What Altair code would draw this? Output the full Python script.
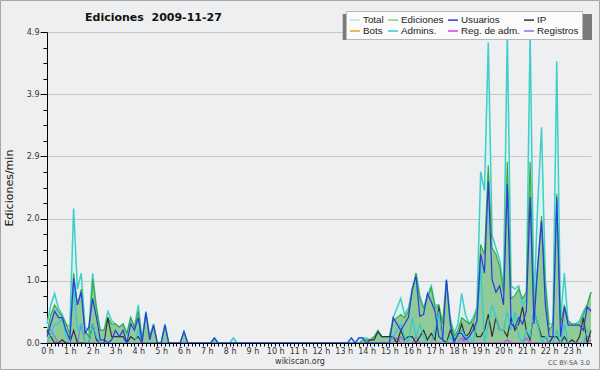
import altair as alt
import pandas as pd

# ---------------- data (10-minute steps, 0h .. 23h50) ----------------
series = ["Total", "Ediciones", "Usuarios", "IP", "Bots", "Admins.", "Reg. de adm.", "Registros"]
legend_colors = ["#aee6e4", "#88d088", "#2a3ae6", "#333333", "#f0a030", "#30c8dc", "#d040e0", "#7b7bf0"]

total = [
    0.30, 0.60, 0.78, 0.55, 0.45, 0.30,   # 0h
    0.25, 2.12, 0.85, 1.10, 0.25, 0.20,   # 1h
    1.10, 0.55, 0.20, 0.20, 0.50, 0.35,   # 2h
    0.30, 0.25, 0.30, 0.15, 0.40, 0.25,   # 3h
    0.60, 0.05, 0.50, 0.10, 0.30, 0.00,   # 4h
    0.00, 0.30, 0.00, 0.00, 0.00, 0.00,   # 5h
    0.18, 0.00, 0.00, 0.00, 0.00, 0.00,   # 6h
    0.00, 0.00, 0.08, 0.00, 0.00, 0.00,   # 7h
    0.00, 0.08, 0.00, 0.00, 0.00, 0.00,   # 8h
    0.00, 0.00, 0.00, 0.00, 0.00, 0.00,   # 9h
    0.00, 0.00, 0.00, 0.00, 0.00, 0.00,   # 10h
    0.00, 0.00, 0.00, 0.00, 0.00, 0.00,   # 11h
    0.00, 0.00, 0.00, 0.00, 0.00, 0.00,   # 12h
    0.00, 0.00, 0.08, 0.00, 0.08, 0.08,   # 13h
    0.08, 0.05, 0.10, 0.20, 0.10, 0.10,   # 14h
    0.10, 0.40, 0.55, 0.70, 0.45, 0.55,   # 15h
    0.85, 1.10, 0.75, 0.55, 0.75, 0.90,   # 16h
    0.60, 0.60, 0.30, 1.00, 0.40, 0.15,   # 17h
    0.30, 0.78, 0.45, 0.30, 0.40, 0.55,   # 18h
    2.70, 2.40, 4.74, 1.70, 1.50, 1.30,   # 19h
    0.90, 4.90, 0.90, 0.85, 0.90, 0.60,   # 20h
    0.70, 4.90, 0.60, 2.20, 3.40, 1.00,   # 21h
    0.30, 0.30, 4.44, 0.35, 1.10, 0.30,   # 22h
    0.30, 0.30, 0.35, 0.50, 0.60, 0.80,   # 23h
]

ediciones = [
    0.15, 0.45, 0.60, 0.50, 0.42, 0.30,
    0.15, 1.10, 0.60, 0.85, 0.20, 0.10,
    1.00, 0.55, 0.20, 0.20, 0.40, 0.30,
    0.30, 0.25, 0.30, 0.15, 0.40, 0.25,
    0.50, 0.05, 0.48, 0.10, 0.28, 0.00,
    0.00, 0.28, 0.00, 0.00, 0.00, 0.00,
    0.18, 0.00, 0.00, 0.00, 0.00, 0.00,
    0.00, 0.00, 0.08, 0.00, 0.00, 0.00,
    0.00, 0.00, 0.00, 0.00, 0.00, 0.00,
    0.00, 0.00, 0.00, 0.00, 0.00, 0.00,
    0.00, 0.00, 0.00, 0.00, 0.00, 0.00,
    0.00, 0.00, 0.00, 0.00, 0.00, 0.00,
    0.00, 0.00, 0.00, 0.00, 0.00, 0.00,
    0.00, 0.00, 0.00, 0.00, 0.00, 0.05,
    0.05, 0.05, 0.10, 0.18, 0.10, 0.10,
    0.10, 0.35, 0.40, 0.45, 0.40, 0.50,
    0.80, 1.10, 0.70, 0.55, 0.70, 0.88,
    0.55, 0.60, 0.30, 1.00, 0.35, 0.10,
    0.20, 0.40, 0.35, 0.30, 0.35, 0.50,
    1.55, 1.40, 2.80, 1.50, 1.40, 1.20,
    0.80, 2.85, 0.70, 0.75, 0.85, 0.70,
    0.80, 2.85, 0.50, 1.25, 2.00, 0.90,
    0.20, 0.30, 2.35, 0.30, 0.60, 0.35,
    0.30, 0.30, 0.30, 0.45, 0.60, 0.80,
]

usuarios = [
    0.10, 0.30, 0.50, 0.40, 0.40, 0.20,
    0.05, 1.02, 0.60, 0.80, 0.15, 0.25,
    0.70, 0.40, 0.05, 0.05, 0.00, 0.05,
    0.20, 0.10, 0.20, 0.00, 0.30, 0.20,
    0.40, 0.00, 0.48, 0.05, 0.28, 0.00,
    0.00, 0.28, 0.00, 0.00, 0.00, 0.00,
    0.18, 0.00, 0.00, 0.00, 0.00, 0.00,
    0.00, 0.00, 0.08, 0.00, 0.00, 0.00,
    0.00, 0.00, 0.00, 0.00, 0.00, 0.00,
    0.00, 0.00, 0.00, 0.00, 0.00, 0.00,
    0.00, 0.00, 0.00, 0.00, 0.00, 0.00,
    0.00, 0.00, 0.00, 0.00, 0.00, 0.00,
    0.00, 0.00, 0.00, 0.00, 0.00, 0.00,
    0.00, 0.00, 0.08, 0.00, 0.08, 0.08,
    0.00, 0.00, 0.00, 0.00, 0.00, 0.00,
    0.00, 0.40, 0.30, 0.20, 0.30, 0.40,
    0.85, 1.05, 0.42, 0.45, 0.78, 0.65,
    0.50, 0.10, 0.05, 0.99, 0.30, 0.00,
    0.15, 0.15, 0.05, 0.10, 0.20, 0.35,
    1.40, 1.10, 2.55, 1.00, 0.80, 0.90,
    0.60, 2.50, 0.30, 0.25, 0.40, 0.30,
    0.50, 2.30, 0.30, 1.20, 1.92, 0.60,
    0.10, 0.10, 2.30, 0.10, 0.57, 0.28,
    0.28, 0.28, 0.28, 0.20, 0.57, 0.50,
]

ip = [
    0.20, 0.10, 0.00, 0.00, 0.05, 0.00,
    0.00, 0.20, 0.00, 0.00, 0.00, 0.00,
    0.30, 0.05, 0.00, 0.00, 0.40, 0.10,
    0.10, 0.10, 0.10, 0.00, 0.10, 0.05,
    0.10, 0.00, 0.00, 0.00, 0.00, 0.00,
    0.00, 0.00, 0.00, 0.00, 0.00, 0.00,
    0.00, 0.00, 0.00, 0.00, 0.00, 0.00,
    0.00, 0.00, 0.00, 0.00, 0.00, 0.00,
    0.00, 0.00, 0.00, 0.00, 0.00, 0.00,
    0.00, 0.00, 0.00, 0.00, 0.00, 0.00,
    0.00, 0.00, 0.00, 0.00, 0.00, 0.00,
    0.00, 0.00, 0.00, 0.00, 0.00, 0.00,
    0.00, 0.00, 0.00, 0.00, 0.00, 0.00,
    0.00, 0.00, 0.00, 0.00, 0.00, 0.00,
    0.00, 0.05, 0.05, 0.18, 0.10, 0.10,
    0.10, 0.10, 0.00, 0.20, 0.05, 0.10,
    0.10, 0.00, 0.10, 0.20, 0.05, 0.15,
    0.05, 0.57, 0.05, 0.00, 0.20, 0.05,
    0.10, 0.30, 0.10, 0.15, 0.30, 0.10,
    0.10, 0.20, 0.45, 0.10, 0.40, 0.20,
    0.20, 0.10, 0.40, 0.20, 0.30, 0.57,
    0.20, 0.05, 0.50, 0.30, 0.10, 0.10,
    0.00, 0.10, 0.10, 0.00, 0.10, 0.00,
    0.05, 0.00, 0.10, 0.40, 0.00, 0.20,
]

admins = [
    0.00, 0.15, 0.30, 0.30, 0.40, 0.10,
    0.00, 0.90, 0.20, 0.30, 0.00, 0.00,
    0.30, 0.10, 0.00, 0.00, 0.00, 0.00,
    0.00, 0.00, 0.00, 0.00, 0.00, 0.00,
    0.20, 0.00, 0.00, 0.00, 0.00, 0.00,
    0.00, 0.00, 0.00, 0.00, 0.00, 0.00,
    0.00, 0.00, 0.00, 0.00, 0.00, 0.00,
    0.00, 0.00, 0.00, 0.00, 0.00, 0.00,
    0.00, 0.08, 0.00, 0.00, 0.00, 0.00,
    0.00, 0.00, 0.00, 0.00, 0.00, 0.00,
    0.00, 0.00, 0.00, 0.00, 0.00, 0.00,
    0.00, 0.00, 0.00, 0.00, 0.00, 0.00,
    0.00, 0.00, 0.00, 0.00, 0.00, 0.00,
    0.00, 0.00, 0.00, 0.00, 0.00, 0.00,
    0.00, 0.00, 0.00, 0.00, 0.00, 0.00,
    0.00, 0.10, 0.20, 0.30, 0.10, 0.00,
    0.40, 0.10, 0.30, 0.10, 0.00, 0.00,
    0.20, 0.50, 0.00, 0.00, 0.10, 0.00,
    0.10, 0.20, 0.10, 0.10, 0.00, 0.30,
    1.20, 0.00, 0.30, 0.60, 0.40, 0.20,
    0.20, 0.50, 0.20, 0.50, 0.10, 0.00,
    0.20, 0.10, 0.50, 0.30, 0.00, 0.10,
    0.00, 0.00, 0.20, 0.00, 0.30, 0.00,
    0.00, 0.00, 0.00, 0.00, 0.20, 0.20,
]

registros = [
    0.20, 0.20, 0.10, 0.00, 0.00, 0.00,
    0.00, 0.00, 0.00, 0.30, 0.00, 0.00,
    0.00, 0.00, 0.00, 0.00, 0.00, 0.00,
    0.00, 0.00, 0.00, 0.00, 0.00, 0.00,
    0.00, 0.00, 0.00, 0.00, 0.00, 0.00,
    0.00, 0.00, 0.00, 0.00, 0.00, 0.00,
    0.00, 0.00, 0.00, 0.00, 0.00, 0.00,
    0.00, 0.00, 0.00, 0.00, 0.00, 0.00,
    0.00, 0.00, 0.00, 0.00, 0.00, 0.00,
    0.00, 0.00, 0.00, 0.00, 0.00, 0.00,
    0.00, 0.00, 0.00, 0.00, 0.00, 0.00,
    0.00, 0.00, 0.00, 0.00, 0.00, 0.00,
    0.00, 0.00, 0.00, 0.00, 0.00, 0.00,
    0.00, 0.00, 0.00, 0.00, 0.00, 0.00,
    0.00, 0.00, 0.00, 0.00, 0.00, 0.00,
    0.00, 0.10, 0.00, 0.10, 0.00, 0.00,
    0.00, 0.10, 0.00, 0.00, 0.00, 0.00,
    0.00, 0.00, 0.00, 0.00, 0.00, 0.00,
    0.00, 0.00, 0.10, 0.00, 0.00, 0.00,
    0.00, 0.00, 0.00, 0.00, 0.00, 0.00,
    0.00, 0.00, 0.00, 0.00, 0.00, 0.00,
    0.00, 0.00, 0.00, 0.00, 0.00, 0.00,
    0.00, 0.00, 0.00, 0.00, 0.00, 0.00,
    0.00, 0.00, 0.00, 0.00, 0.10, 0.10,
]

reg_adm = [
    0.00, 0.00, 0.00, 0.00, 0.00, 0.00,
    0.00, 0.00, 0.00, 0.00, 0.00, 0.00,
    0.00, 0.00, 0.00, 0.00, 0.00, 0.00,
    0.00, 0.00, 0.00, 0.00, 0.00, 0.00,
    0.00, 0.00, 0.00, 0.00, 0.00, 0.00,
    0.00, 0.00, 0.00, 0.00, 0.00, 0.00,
    0.00, 0.00, 0.00, 0.00, 0.00, 0.00,
    0.00, 0.00, 0.00, 0.00, 0.00, 0.00,
    0.00, 0.00, 0.00, 0.00, 0.00, 0.00,
    0.00, 0.00, 0.00, 0.00, 0.00, 0.00,
    0.00, 0.00, 0.00, 0.00, 0.00, 0.00,
    0.00, 0.00, 0.00, 0.00, 0.00, 0.00,
    0.00, 0.00, 0.00, 0.00, 0.00, 0.00,
    0.00, 0.00, 0.00, 0.00, 0.00, 0.00,
    0.00, 0.00, 0.00, 0.00, 0.00, 0.00,
    0.00, 0.00, 0.08, 0.00, 0.00, 0.00,
    0.00, 0.00, 0.00, 0.00, 0.00, 0.00,
    0.00, 0.00, 0.00, 0.00, 0.00, 0.00,
    0.00, 0.08, 0.00, 0.00, 0.00, 0.00,
    0.00, 0.00, 0.00, 0.00, 0.00, 0.00,
    0.00, 0.05, 0.00, 0.00, 0.00, 0.00,
    0.08, 0.00, 0.00, 0.00, 0.00, 0.00,
    0.00, 0.00, 0.00, 0.00, 0.00, 0.00,
    0.00, 0.00, 0.00, 0.00, 0.00, 0.05,
]

x_ticks = [i / 6 for i in range(144)]
y_ticks = [round(0.245 * k, 4) for k in range(21)]

# ---------------- long table ----------------
rows = []
for name, vals in [("Total", total), ("Ediciones", ediciones), ("Usuarios", usuarios),
                   ("IP", ip), ("Admins.", admins), ("Reg. de adm.", reg_adm),
                   ("Registros", registros)]:
    for i, v in enumerate(vals):
        rows.append({"hora": i / 6, "serie": name, "valor": v})
df = pd.DataFrame(rows)

major = "abs(datum.value / 0.98 - round(datum.value / 0.98)) < 0.01"

X = alt.X("hora:Q",
          scale=alt.Scale(domain=[0, 143 / 6], nice=False, zero=False),
          axis=alt.Axis(values=x_ticks, title=None, grid=False,
                        labelExpr="abs(datum.value - round(datum.value)) < 0.001 ? round(datum.value) + ' h' : ''",
                        tickSize=3, tickColor="#000", domainColor="#000",
                        labelFont="DejaVu Sans", labelFontSize=8, labelColor="#333",
                        labelBaseline="alphabetic", labelPadding=7.5,
                        labelOverlap=False, labelFlush=False, labelBound=False, zindex=1))
Y = alt.Y("valor:Q",
          scale=alt.Scale(domain=[0, 4.9], nice=False),
          axis=alt.Axis(values=y_ticks, labelExpr=major + " ? format(datum.value, '.1f') : ''",
                        tickSize={"condition": {"test": major, "value": 7}, "value": 4},
                        grid=True, gridColor="#c8c8c8",
                        gridOpacity={"condition": {"test": major, "value": 1}, "value": 0},
                        tickColor="#000", domainColor="#000",
                        labelFont="DejaVu Sans", labelFontSize=8, labelColor="#333",
                        labelPadding=1, labelOverlap=False, labelFlush=False,
                        title="Ediciones/min", titleFont="DejaVu Sans", titleFontSize=11,
                        titleFontWeight="normal", titleColor="#111",
                        titleX=-38, titleY=155.5, titleAngle=270,
                        titleAlign="center", titleBaseline="middle"))

legend = alt.Legend(title=None, orient="none", legendX=299, legendY=-21,
                    columns=4, direction="horizontal", symbolType="stroke",
                    symbolSize=100, symbolStrokeWidth=1.5,
                    labelFont="Liberation Sans", labelFontSize=9.8, labelColor="#222",
                    fillColor="#fbfbfb", strokeColor="#b8b8b8", padding=3,
                    rowPadding=0, columnPadding=1, labelOffset=2, gridAlign="each",
                    labelLimit=200)
C = alt.Color("serie:N", scale=alt.Scale(domain=series, range=legend_colors), legend=legend)

base = alt.Chart(df)


def only(name):
    return base.transform_filter(alt.datum.serie == name)


total_area = only("Total").mark_area(color="#d9f1ef").encode(x=X, y=Y)
edit_area = only("Ediciones").mark_area(color="#8fca98").encode(x=X, y=Y)
total_line = only("Total").mark_line(color="#3ecfca", strokeWidth=1.5).encode(x=X, y=Y)
edit_line = only("Ediciones").mark_line(color="#38a83c", strokeWidth=1.1).encode(x=X, y=Y)
other_lines = [
    only(n).mark_line(strokeWidth=1.2).encode(x=X, y=Y, color=C)
    for n in ["Registros", "Reg. de adm.", "IP", "Admins.", "Usuarios"]
]

one = pd.DataFrame({"k": [0]})
frame = alt.Chart(one).mark_rect(fillOpacity=0, stroke="#a8a8a8", strokeWidth=1).encode(
    x=alt.value(-46.5), x2=alt.value(552.5), y=alt.value(-31.5), y2=alt.value(337.5))
shadow = alt.Chart(one).mark_rect(color="#7a7a7a").encode(
    x=alt.value(295.7), x2=alt.value(545), y=alt.value(-18), y2=alt.value(8))
title = alt.Chart(one).mark_text(text="Ediciones\u00a0\u00a02009-11-27", font="DejaVu Sans",
                                 fontSize=11, fontWeight="bold", align="left",
                                 baseline="alphabetic", color="#111").encode(
    x=alt.value(38), y=alt.value(-11.3))
footer = alt.Chart(one).mark_text(text="wikiscan.org", font="DejaVu Sans", fontSize=8,
                                  align="center", baseline="alphabetic", color="#333").encode(
    x=alt.value(253), y=alt.value(331.5))
cc = alt.Chart(one).mark_text(text="CC BY-SA 3.0", font="DejaVu Sans", fontSize=6.5,
                              align="right", baseline="alphabetic", color="#555").encode(
    x=alt.value(543), y=alt.value(333))

chart = alt.layer(
    total_area, edit_area, total_line, edit_line, *other_lines,
    shadow, frame, title, footer, cc
).properties(
    width=544, height=311,
    padding={"left": 47, "top": 32, "right": 9, "bottom": 27},
    autosize=alt.AutoSizeParams(type="none"),
    background="#eeeff0",
).configure_view(stroke=None)

chart.save("out.html", embed_options={"renderer": "svg", "actions": False})
